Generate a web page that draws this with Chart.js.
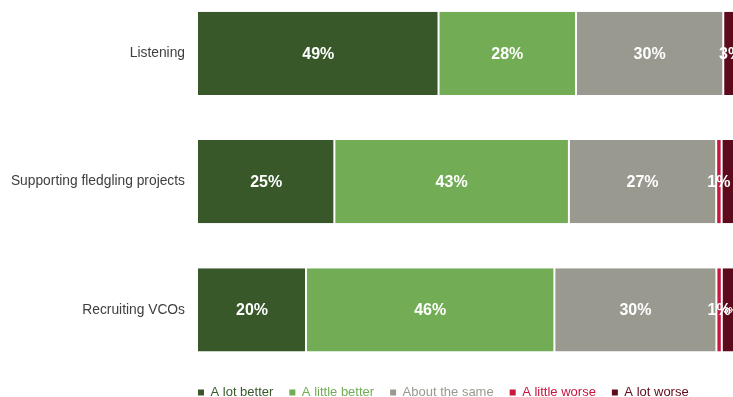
<!DOCTYPE html>
<html>
<head>
<meta charset="utf-8">
<script src="https://cdn.jsdelivr.net/npm/chart.js@4/dist/chart.umd.min.js"></script>
<style>
  body { margin: 0; background: #fff; }
  #wrap { width: 733px; height: 397px; overflow: hidden; position: relative; }
  #chart { position: absolute; left: 0; top: -32px; }
</style>
</head>
<body>
<div id="wrap"><canvas id="chart" width="738" height="445"></canvas></div>
<script>
var categories = ['Listening', 'Supporting fledgling projects', 'Recruiting VCOs'];
var seriesNames = ['A lot better', 'A little better', 'About the same', 'A little worse', 'A lot worse'];

// answers per row, in percent
var aLotBetter = [49, 25, 20];
var aLittleBetter = [28, 43, 46];
var aboutTheSame = [30, 27, 30];
var aLittleWorse = [0, 1, 1];
var aLotWorse = [3, 3, 3];

var colors = ['#38582a', '#72ad56', '#9a9990', '#c8163c', '#5e0a1d'];

var allSeries = [aLotBetter, aLittleBetter, aboutTheSame, aLittleWorse, aLotWorse];

// each bar is stretched to 100% of its own total
var rowTotals = categories.map(function(c, j) {
    return allSeries.reduce(function(sum, s) { return sum + s[j]; }, 0);
});

var datasets = allSeries.map(function(values, i) {
    return {
        label: seriesNames[i],
        raw: values,
        data: values.map(function(v, j) { return v / rowTotals[j] * 100; }),
        backgroundColor: colors[i],
        borderColor: '#ffffff',
        borderWidth: { left: i ? 1 : 0, right: 1, top: 0, bottom: 0 },
        borderSkipped: false,
        categoryPercentage: 1,
        barPercentage: 0.65
    };
});

// labels that are not printed on the bar
var hiddenLabels = { '4:1': true };

var barLabels = {
    id: 'barLabels',
    afterDatasetsDraw: function(chart) {
        var ctx = chart.ctx;
        ctx.save();
        ctx.fillStyle = '#ffffff';
        ctx.textAlign = 'center';
        ctx.textBaseline = 'middle';
        chart.data.datasets.forEach(function(ds, i) {
            var meta = chart.getDatasetMeta(i);
            meta.data.forEach(function(bar, j) {
                var v = ds.raw[j];
                if (!v || hiddenLabels[i + ':' + j]) return;
                var small = i == 4 && aLittleWorse[j] > 0;
                ctx.font = 'bold ' + (small ? 9 : 16) + 'px "Liberation Sans", Arial, sans-serif';
                ctx.fillText(v + '%', (bar.x + bar.base) / 2, bar.y + 1);
            });
        });
        ctx.restore();
    }
};

// move the legend so it starts under the first bar
var legendShift = {
    id: 'legendShift',
    afterLayout: function(chart) {
        var lg = chart.legend;
        lg.left -= 16;
        lg.right -= 16;
        lg.top -= 4;
        lg.bottom -= 4;
    }
};

Chart.defaults.font.family = '"Liberation Sans", Arial, sans-serif';

new Chart(document.getElementById('chart').getContext('2d'), {
    type: 'bar',
    data: { labels: categories, datasets: datasets },
    options: {
        indexAxis: 'y',
        responsive: false,
        animation: false,
        layout: { padding: 0 },
        scales: {
            x: {
                stacked: true,
                min: 0,
                max: 100,
                display: false
            },
            y: {
                stacked: true,
                grid: { display: false, drawTicks: false },
                border: { display: false },
                ticks: { color: '#404040', font: { size: 13.8 }, padding: 13 },
                afterFit: function(scale) { scale.width = 198; }
            }
        },
        plugins: {
            tooltip: { enabled: false },
            legend: {
                position: 'bottom',
                align: 'start',
                fullSize: false,
                labels: {
                    boxWidth: 6,
                    boxHeight: 6,
                    padding: 16,
                    font: { size: 13 },
                    generateLabels: function(chart) {
                        return chart.data.datasets.map(function(ds, i) {
                            return {
                                text: ds.label,
                                fillStyle: colors[i],
                                strokeStyle: colors[i],
                                lineWidth: 0,
                                fontColor: colors[i],
                                datasetIndex: i
                            };
                        });
                    }
                }
            }
        }
    },
    plugins: [barLabels, legendShift]
});
</script>
</body>
</html>
